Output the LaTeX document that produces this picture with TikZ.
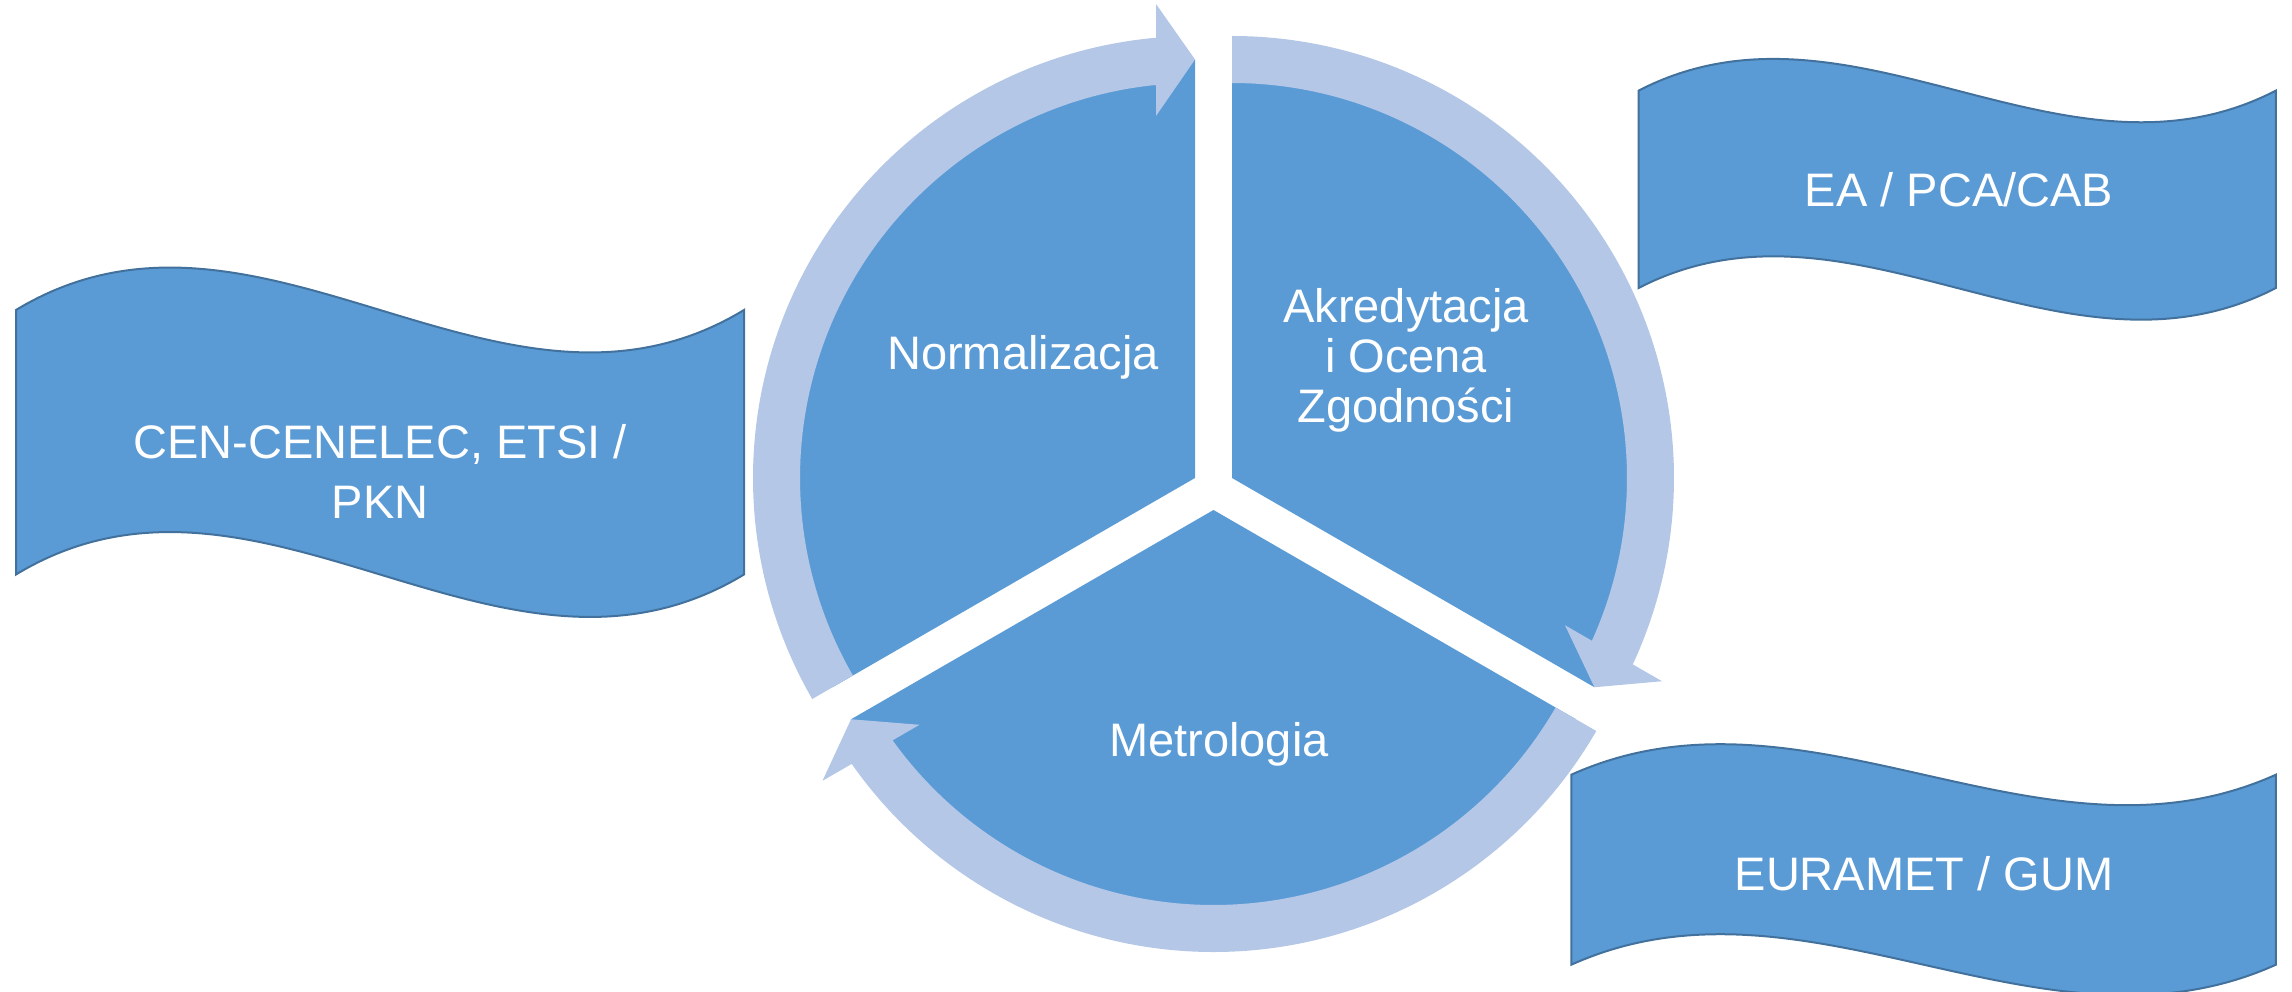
\documentclass[tikz,border=0pt]{standalone}
\usepackage{fontspec}
\setsansfont{Liberation Sans}
\definecolor{segblue}{RGB}{91,155,213}
\definecolor{ringblue}{RGB}{180,199,231}
\definecolor{bannerline}{RGB}{65,113,156}
\begin{document}
\begin{tikzpicture}[
  x=1pt, y=1pt,
  font=\sffamily,
  sector/.style={fill=segblue},
  ring/.style={fill=ringblue},
  banner/.style={draw=bannerline, line width=2pt, fill=segblue},
  segtext/.style={text=white, align=center, font=\sffamily\fontsize{47}{50}\selectfont},
  bantext/.style={text=white, align=center, font=\sffamily\fontsize{47}{60}\selectfont},
  cyclepart/.pic={
    \fill[sector] (0,0) -- (90:418.5) arc[start angle=90, end angle=210, radius=418.5pt] -- cycle;
    \fill[ring] (210:442) arc[start angle=210, end angle=95.06, radius=442pt]
      -- (-39,474) -- (0,418.5) -- (-39,362) -- (95.67:395)
      arc[start angle=95.67, end angle=210, radius=395pt] -- cycle;
  }]
\useasboundingbox (0,0) rectangle (2292,-992);

% Apexes of the three exploded sectors
\coordinate (normApex) at (1195,-478);
\coordinate (akrApex) at (1232,-478);
\coordinate (metApex) at (1213.5,-510);

% Sectors with their ring arrows
\pic at (normApex) {cyclepart};
\pic[rotate=-120] at (akrApex) {cyclepart};
\pic[rotate=120] at (metApex) {cyclepart};

% Wave banners
\draw[banner] (16,-310) .. controls (258.7,-163) and (501.3,-457) .. (744,-310)
  -- (744,-574.5) .. controls (501.3,-721.5) and (258.7,-427.5) .. (16,-574.5) -- cycle;
\draw[banner] (1638.6,-90.6) .. controls (1851,19.1) and (2063.5,-200.3) .. (2275.9,-90.6)
  -- (2275.9,-288) .. controls (2063.5,-397.7) and (1851,-178.3) .. (1638.6,-288) -- cycle;
\draw[banner] (1571.3,-774.7) .. controls (1806.2,-669.1) and (2041,-880.3) .. (2275.9,-774.7)
  -- (2275.9,-964.7) .. controls (2041,-1070.3) and (1806.2,-859.1) .. (1571.3,-964.7) -- cycle;

% Labels
\node[segtext] (normalizacja) at (1023,-357) {Normalizacja};
\node[segtext] (akredytacja) at (1406,-360) {Akredytacja\\i Ocena\\Zgodności};
\node[segtext] (metrologia) at (1219,-744) {Metrologia};
\node[bantext] (cenText) at (380,-471) {CEN-CENELEC, ETSI /\\PKN};
\node[bantext] (eaText) at (1959,-190) {EA / PCA/CAB};
\node[bantext] (eurametText) at (1924,-874) {EURAMET / GUM};
\end{tikzpicture}
\end{document}
